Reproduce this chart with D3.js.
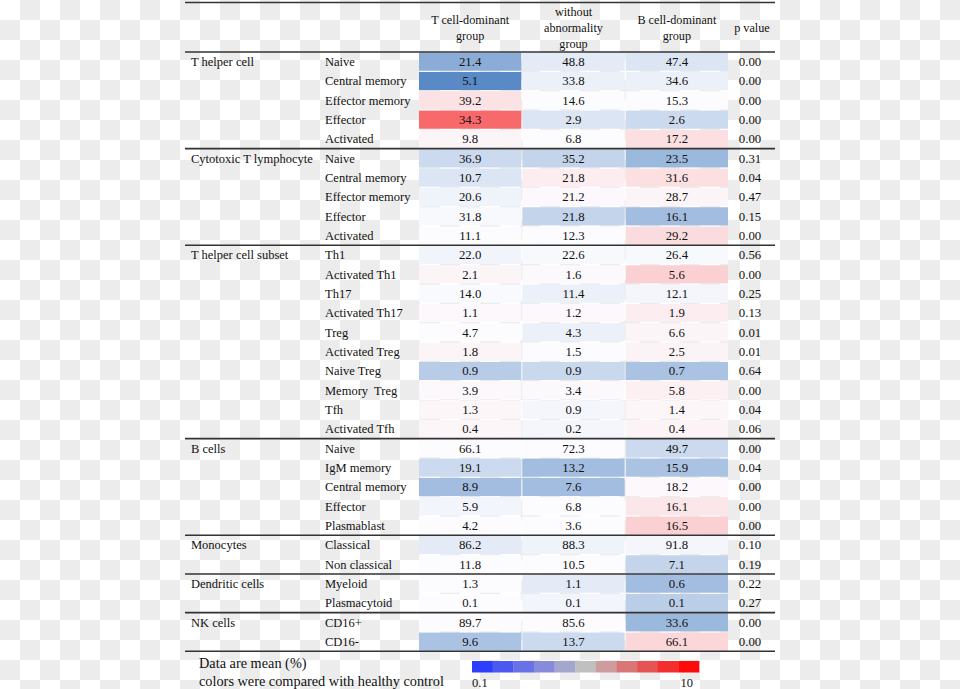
<!DOCTYPE html>
<html><head><meta charset="utf-8">
<script src="https://cdn.jsdelivr.net/npm/d3@7"></script>
<style>html,body{margin:0;padding:0;background:#fff;}svg{display:block;}</style>
</head><body>
<script>
// ---------- data ----------
const groupNames = ["T helper cell","Cytotoxic T lymphocyte","T helper cell subset","B cells","Monocytes","Dendritic cells","NK cells"];
const groupSizes = [5,5,10,5,2,2,2];
const subsets = ["Naive","Central memory","Effector memory","Effector","Activated",
  "Naive","Central memory","Effector memory","Effector","Activated",
  "Th1","Activated Th1","Th17","Activated Th17","Treg","Activated Treg","Naive Treg","Memory  Treg","Tfh","Activated Tfh",
  "Naive","IgM memory","Central memory","Effector","Plasmablast",
  "Classical","Non classical","Myeloid","Plasmacytoid","CD16+","CD16-"];
const tDominant = [21.4,5.1,39.2,34.3,9.8, 36.9,10.7,20.6,31.8,11.1, 22.0,2.1,14.0,1.1,4.7,1.8,0.9,3.9,1.3,0.4, 66.1,19.1,8.9,5.9,4.2, 86.2,11.8,1.3,0.1,89.7,9.6];
const withoutAbn = [48.8,33.8,14.6,2.9,6.8, 35.2,21.8,21.2,21.8,12.3, 22.6,1.6,11.4,1.2,4.3,1.5,0.9,3.4,0.9,0.2, 72.3,13.2,7.6,6.8,3.6, 88.3,10.5,1.1,0.1,85.6,13.7];
const bDominant = [47.4,34.6,15.3,2.6,17.2, 23.5,31.6,28.7,16.1,29.2, 26.4,5.6,12.1,1.9,6.6,2.5,0.7,5.8,1.4,0.4, 49.7,15.9,18.2,16.1,16.5, 91.8,7.1,0.6,0.1,33.6,66.1];
const pValues = ["0.00","0.00","0.00","0.00","0.00", "0.31","0.04","0.47","0.15","0.00", "0.56","0.00","0.25","0.13","0.01","0.01","0.64","0.00","0.04","0.06", "0.00","0.04","0.00","0.00","0.00", "0.10","0.19","0.22","0.27","0.00","0.00"];
// estimated comparison with healthy control (log10 ratio, -1 = 0.1x, +1 = 10x)
const levelT = [-0.7,-1.0,0.18,1.0,0.05, -0.3,-0.2,-0.08,-0.03,0.01, -0.07,0.05,-0.02,0.03,0.0,0.05,-0.42,0.02,0.04,0.04, 0.0,-0.3,-0.55,-0.06,0.0, -0.15,0.0,0.0,0.0,0.0,-0.5];
const levelW = [-0.15,-0.1,0.0,-0.2,0.0, -0.35,0.1,0.03,-0.35,0.0, -0.03,0.02,-0.1,0.03,-0.1,0.01,-0.32,0.02,-0.05,-0.05, 0.01,-0.55,-0.55,0.0,0.0, -0.08,0.0,-0.15,-0.06,0.0,-0.3];
const levelB = [-0.2,-0.1,0.01,-0.3,0.2, -0.6,0.2,0.05,-0.55,0.22, -0.03,0.3,-0.05,0.1,0.05,0.06,-0.5,0.08,0.04,0.06, -0.3,-0.5,0.03,0.15,0.3, -0.05,-0.35,-0.55,-0.4,-0.6,0.25];
const colHeaders = [["T cell-dominant","group"],["without","abnormality","group"],["B cell-dominant","group"]];
const legendTicks = ["0.1","10"];
const legendSteps = d3.range(11);

// ---------- layout ----------
const W = 960, H = 689;
const svg = d3.select("body").append("svg").attr("width", W).attr("height", H)
  .style("font-family", "'Liberation Serif','Times New Roman',serif");

// checkered transparent-style background
const defs = svg.append("defs");
const pat = defs.append("pattern").attr("id","chk").attr("width",40).attr("height",40).attr("patternUnits","userSpaceOnUse");
pat.append("rect").attr("width",40).attr("height",40).attr("fill","#ffffff");
pat.append("rect").attr("x",20).attr("y",0).attr("width",20).attr("height",20).attr("fill","#ececec");
pat.append("rect").attr("x",0).attr("y",20).attr("width",20).attr("height",20).attr("fill","#ececec");
svg.append("rect").attr("width",W).attr("height",H).attr("fill","url(#chk)");

const tableLeft = 185, tableRight = 775;
const headerBottom = 52, tableBottom = 651.3;
const y = d3.scaleBand().domain(d3.range(subsets.length)).range([headerBottom, tableBottom]);
const x = d3.scaleBand().domain([0,1,2]).range([419, 728]).paddingInner(0.01);
const pX = 750, groupX = 191, subX = 325;

const cellColor = d3.scaleLinear().domain([-1,0,1]).range(["#5A8AC6","#FCFCFF","#F8696B"]).clamp(true);

const cols = [tDominant, withoutAbn, bDominant];
const levels = [levelT, levelW, levelB];
const cells = [];
subsets.forEach((s,i) => cols.forEach((c,j) => cells.push({i, j, v: c[i], lv: levels[j][i]})));

const g = svg.append("g");
g.selectAll("rect.cell").data(cells).join("rect").attr("class","cell")
  .attr("x", d => x(d.j)).attr("width", x.bandwidth())
  .attr("y", d => y(d.i) + 0.6).attr("height", y.bandwidth() - 1.2)
  .attr("fill", d => cellColor(d.lv));

const fs = 12.8;
g.selectAll("text.val").data(cells).join("text").attr("class","val")
  .attr("x", d => x(d.j) + x.bandwidth()/2).attr("y", d => y(d.i) + y.bandwidth()/2 + 4.5)
  .attr("text-anchor","middle").attr("font-size", fs).attr("fill","#111")
  .text(d => d.v.toFixed(1));

g.selectAll("text.sub").data(subsets).join("text").attr("class","sub")
  .attr("x", subX).attr("y", (d,i) => y(i) + y.bandwidth()/2 + 4.5)
  .attr("font-size", 12.5).attr("fill","#111").attr("xml:space","preserve").style("white-space","pre")
  .text(d => d);

g.selectAll("text.p").data(pValues).join("text").attr("class","p")
  .attr("x", pX).attr("y", (d,i) => y(i) + y.bandwidth()/2 + 4.5)
  .attr("text-anchor","middle").attr("font-size", fs).attr("fill","#111")
  .text(d => d);

const starts = d3.cumsum([0, ...groupSizes]).slice(0, groupSizes.length);
g.selectAll("text.grp").data(groupNames).join("text").attr("class","grp")
  .attr("x", groupX).attr("y", (d,k) => y(starts[k]) + y.bandwidth()/2 + 4.5)
  .attr("font-size", 12.5).attr("fill","#111").text(d => d);

// rules
const ruleYs = [2.5, headerBottom, ...d3.cumsum(groupSizes).map(n => n < subsets.length ? y(n) : tableBottom)];
g.selectAll("line.rule").data(ruleYs).join("line").attr("class","rule")
  .attr("x1", tableLeft).attr("x2", tableRight).attr("y1", d => d).attr("y2", d => d)
  .attr("stroke","#333").attr("stroke-width", 1.6);

// headers
colHeaders.forEach((lines, j) => {
  const n = lines.length;
  const cy = 28;
  lines.forEach((t, k) => {
    g.append("text").attr("x", x(j) + x.bandwidth()/2)
      .attr("y", cy + (k - (n-1)/2) * 16 + 4)
      .attr("text-anchor","middle").attr("font-size", 12.2).attr("fill","#111").text(t);
  });
});
g.append("text").attr("x", pX + 2).attr("y", 32).attr("text-anchor","middle")
  .attr("font-size", 12.2).attr("fill","#111").text("p value");

// legend
g.append("text").attr("x", 199).attr("y", 668).attr("font-size", 14.3).attr("fill","#111").text("Data are mean (%)");
g.append("text").attr("x", 199).attr("y", 686).attr("font-size", 14.3).attr("fill","#111").text("colors were compared with healthy control");

const legColor = d3.scaleLinear().domain([0,5,10]).range(["#2e3eff","#c0c0c0","#ff0a0a"]);
const lx = d3.scaleBand().domain(legendSteps).range([472, 699]);
g.selectAll("rect.leg").data(legendSteps).join("rect").attr("class","leg")
  .attr("x", d => lx(d)).attr("width", lx.bandwidth() + 0.3)
  .attr("y", 661).attr("height", 11.5).attr("fill", d => legColor(d));
g.append("text").attr("x", 472).attr("y", 687).attr("font-size", 12.5).attr("fill","#111").text(legendTicks[0]);
g.append("text").attr("x", 693).attr("y", 687).attr("text-anchor","end").attr("font-size", 12.5).attr("fill","#111").text(legendTicks[1]);
</script>
</body></html>
